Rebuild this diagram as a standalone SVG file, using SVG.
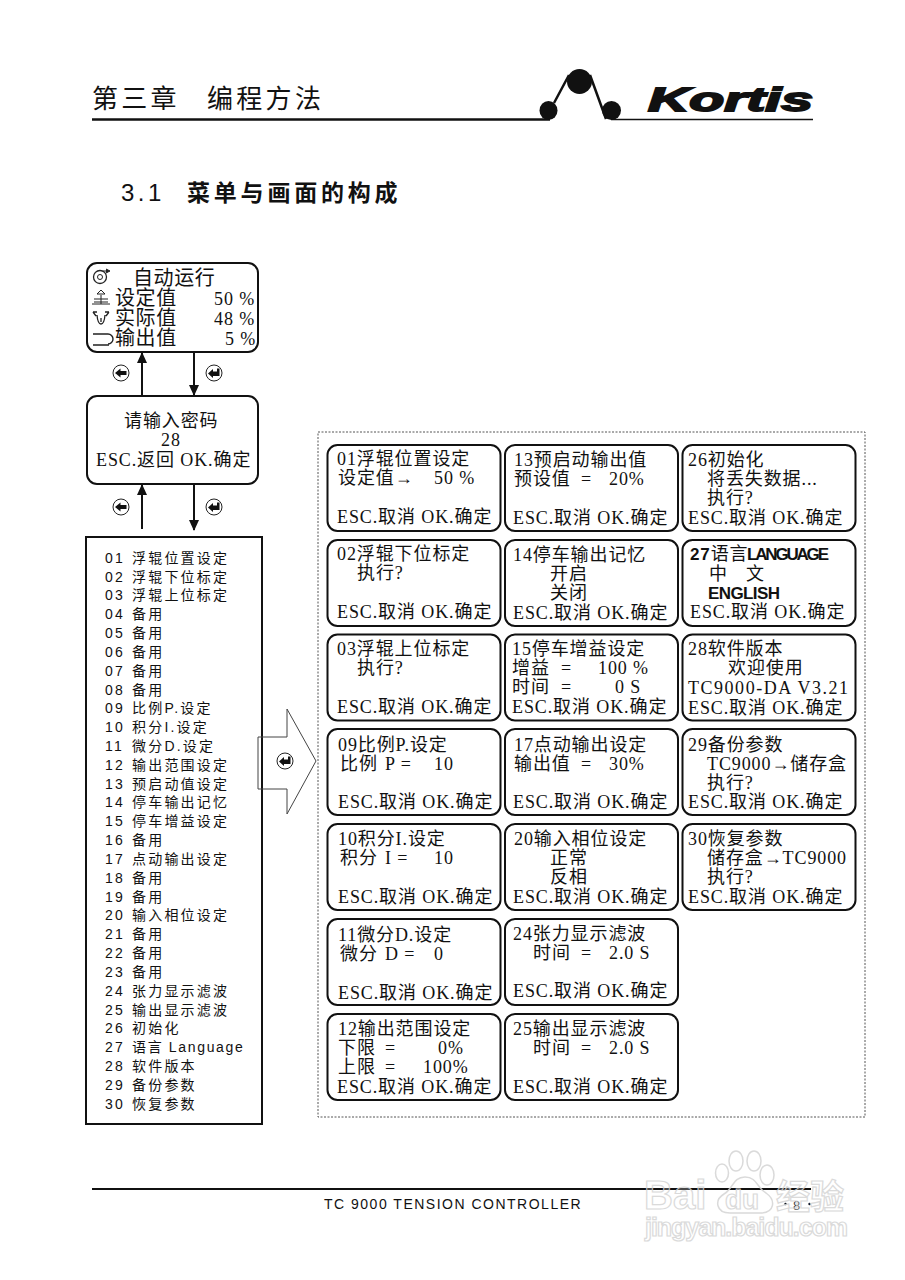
<svg xmlns="http://www.w3.org/2000/svg" width="905" height="1280" viewBox="0 0 905 1280">
<style>
text{font-family:"Liberation Serif","Noto Sans CJK SC",serif;fill:#111;white-space:pre}
.c{font-size:18px;letter-spacing:.9px}
.b{font-size:18px;letter-spacing:.9px}
.m{font-size:20px;letter-spacing:.6px}
.s{font-family:"Liberation Sans",sans-serif;font-weight:700;font-size:17px}
.l{font-family:"Liberation Sans","Noto Sans CJK SC",sans-serif;font-size:14px;letter-spacing:2.2px}
.n{fill:#fff;stroke:#111;stroke-width:2}
.a{stroke:#111;stroke-width:2;fill:none;marker-end:url(#ah)}
.i{fill:#fff;stroke:#222;stroke-width:1}
.h{font-family:"Noto Sans CJK SC",sans-serif}
.w{font-family:"Liberation Sans",sans-serif;font-weight:700;stroke:#d4d4d4;stroke-width:1.2;fill:#fff;fill-opacity:.3}
</style>
<defs>
<marker id="ah" markerWidth="11" markerHeight="10" refX="10" refY="5" orient="auto" markerUnits="userSpaceOnUse"><path d="M0 0 L11 5 L0 10 Z" fill="#111"/></marker>
<g id="ret"><circle r="8" class="i"/><path d="M-6 0.500 L-1 -4 V-1.500 H3 V-4.500 H5.500 V3 H-1 V5 Z" fill="#111"/></g>
<g id="bck"><circle r="8" class="i"/><path d="M-6 0 L-0.500 -4.500 V-2 H5.500 V2 H-0.500 V4.500 Z" fill="#111"/></g>
<rect id="cell" width="173" height="86" rx="10" class="n"/>
</defs>
<rect width="905" height="1280" fill="#fff"/>
<g id="header">
<text class="h" x="92" y="108" font-size="26" letter-spacing="3.300">第三章</text>
<text class="h" x="207" y="108" font-size="26" letter-spacing="3.300">编程方法</text>
<path d="M92 119.500 H550" stroke="#111" stroke-width="2.500"/>
<path d="M611 119.500 H813" stroke="#111" stroke-width="1.600"/>
<ellipse cx="548.500" cy="110.500" rx="9" ry="9.500" fill="#111"/>
<ellipse cx="579.500" cy="81.500" rx="12.500" ry="12.500" fill="#111"/>
<ellipse cx="611.500" cy="110.500" rx="9.500" ry="9.500" fill="#111"/>
<path d="M554 103 L569 75 M590 75 L606 119" stroke="#111" stroke-width="2.500" fill="none"/>
<text x="648" y="111" font-size="33" font-weight="700" font-style="italic" textLength="165" lengthAdjust="spacingAndGlyphs" stroke="#111" stroke-width="1.800" style="font-family:'Liberation Sans',sans-serif">Kortis</text>
<text x="121" y="201" font-size="24" letter-spacing="3.500" style="font-family:'Liberation Sans',sans-serif">3.1</text>
<text class="h" x="187" y="201" font-size="23" font-weight="700" letter-spacing="3.800">菜单与画面的构成</text>
</g>
<g id="node-auto">
<rect x="87" y="263" width="171" height="89" rx="10" class="n"/>
<circle cx="100" cy="277" r="6.500" fill="none" stroke="#222" stroke-width="1.300"/><circle cx="100" cy="277" r="2.500" fill="none" stroke="#222"/><path d="M103 271 H108 M106 269 L110 271 L106 273" stroke="#222" fill="#222" stroke-width="1"/>
<path d="M97 294 L101 290 L105 294 Z M94 299 H108 M94 302 H108 M101 295 V304 M92 304 H110" stroke="#222" fill="none" stroke-width="1"/>
<path d="M93 312 L96 316 M109 312 L106 316 M97 315 C98 327 104 327 105 315 M93 312 H97 M105 312 H109 M101 318 V322" stroke="#222" fill="none" stroke-width="1.300"/>
<path d="M93 334 H108 M93 345 H109 M108 334 A5 5 0 0 1 108 344" stroke="#222" fill="none" stroke-width="1.400"/>
<text class="m" x="133" y="285">自动运行</text>
<text class="m" x="115" y="305">设定值</text><text class="b" x="214" y="305">50 %</text>
<text class="m" x="115" y="325">实际值</text><text class="b" x="214" y="325">48 %</text>
<text class="m" x="115" y="345">输出值</text><text class="b" x="225" y="345">5 %</text>
</g>
<g id="node-password">
<rect x="87" y="396" width="171" height="88" rx="10" class="n"/>
<text class="b" x="124" y="427">请输入密码</text>
<text class="b" x="161" y="446">28</text>
<text class="b" x="96" y="466">ESC.返回 OK.确定</text>
</g>
<g id="node-menu">
<rect x="86" y="537" width="176" height="587" fill="#fff" stroke="#111" stroke-width="2"/>
<text class="l" x="105" y="563">01</text><text class="l" x="132" y="563">浮辊位置设定</text>
<text class="l" x="105" y="582">02</text><text class="l" x="132" y="582">浮辊下位标定</text>
<text class="l" x="105" y="600">03</text><text class="l" x="132" y="600">浮辊上位标定</text>
<text class="l" x="105" y="619">04</text><text class="l" x="132" y="619">备用</text>
<text class="l" x="105" y="638">05</text><text class="l" x="132" y="638">备用</text>
<text class="l" x="105" y="657">06</text><text class="l" x="132" y="657">备用</text>
<text class="l" x="105" y="676">07</text><text class="l" x="132" y="676">备用</text>
<text class="l" x="105" y="695">08</text><text class="l" x="132" y="695">备用</text>
<text class="l" x="105" y="713">09</text><text class="l" x="132" y="713">比例P.设定</text>
<text class="l" x="105" y="732">10</text><text class="l" x="132" y="732">积分I.设定</text>
<text class="l" x="105" y="751">11</text><text class="l" x="132" y="751">微分D.设定</text>
<text class="l" x="105" y="770">12</text><text class="l" x="132" y="770">输出范围设定</text>
<text class="l" x="105" y="789">13</text><text class="l" x="132" y="789">预启动值设定</text>
<text class="l" x="105" y="807">14</text><text class="l" x="132" y="807">停车输出记忆</text>
<text class="l" x="105" y="826">15</text><text class="l" x="132" y="826">停车增益设定</text>
<text class="l" x="105" y="845">16</text><text class="l" x="132" y="845">备用</text>
<text class="l" x="105" y="864">17</text><text class="l" x="132" y="864">点动输出设定</text>
<text class="l" x="105" y="883">18</text><text class="l" x="132" y="883">备用</text>
<text class="l" x="105" y="902">19</text><text class="l" x="132" y="902">备用</text>
<text class="l" x="105" y="920">20</text><text class="l" x="132" y="920">输入相位设定</text>
<text class="l" x="105" y="939">21</text><text class="l" x="132" y="939">备用</text>
<text class="l" x="105" y="958">22</text><text class="l" x="132" y="958">备用</text>
<text class="l" x="105" y="977">23</text><text class="l" x="132" y="977">备用</text>
<text class="l" x="105" y="996">24</text><text class="l" x="132" y="996">张力显示滤波</text>
<text class="l" x="105" y="1015">25</text><text class="l" x="132" y="1015">输出显示滤波</text>
<text class="l" x="105" y="1033">26</text><text class="l" x="132" y="1033">初始化</text>
<text class="l" x="105" y="1052">27</text><text class="l" x="132" y="1052" textLength="113">语言 Language</text>
<text class="l" x="105" y="1071">28</text><text class="l" x="132" y="1071">软件版本</text>
<text class="l" x="105" y="1090">29</text><text class="l" x="132" y="1090">备份参数</text>
<text class="l" x="105" y="1109">30</text><text class="l" x="132" y="1109">恢复参数</text>
</g>
<g id="connectors">
<path class="a" d="M142 395 V353"/>
<path class="a" d="M194 352 V395"/>
<path class="a" d="M142 529 V485"/>
<path class="a" d="M194 484 V530"/>
<path d="M258 737 H287 V709 L316 761 L287 814 V789 H258 Z" fill="none" stroke="#444" stroke-width="1"/>
<use href="#bck" x="121" y="373"/>
<use href="#ret" x="214" y="373"/>
<use href="#bck" x="121" y="507"/>
<use href="#ret" x="214" y="507"/>
<use href="#ret" x="285" y="761"/>
</g>
<rect id="frame" x="318" y="432" width="547" height="685" fill="none" stroke="#555" stroke-width="1" stroke-dasharray="2 1.500"/>
<g id="s01"><use href="#cell" x="327.500" y="445"/><text class="c" x="337" y="465">01浮辊位置设定</text><text class="c" x="338" y="484">设定值<tspan font-weight="700">→</tspan></text><text class="c" x="434" y="484">50 %</text><text class="c" x="337" y="523">ESC.取消 OK.确定</text></g>
<g id="s02"><use href="#cell" x="327.500" y="540"/><text class="c" x="337" y="560">02浮辊下位标定</text><text class="c" x="357" y="579">执行?</text><text class="c" x="337" y="618">ESC.取消 OK.确定</text></g>
<g id="s03"><use href="#cell" x="327.500" y="634.500"/><text class="c" x="337" y="655">03浮辊上位标定</text><text class="c" x="357" y="674">执行?</text><text class="c" x="337" y="713">ESC.取消 OK.确定</text></g>
<g id="s09"><use href="#cell" x="327.500" y="729"/><text class="c" x="338" y="751">09比例P.设定</text><text class="c" x="340" y="770">比例</text><text class="c" x="385" y="770">P =</text><text class="c" x="434" y="770">10</text><text class="c" x="338" y="808">ESC.取消 OK.确定</text></g>
<g id="s10"><use href="#cell" x="327.500" y="824"/><text class="c" x="338" y="845">10积分I.设定</text><text class="c" x="340" y="864">积分</text><text class="c" x="385" y="864">I =</text><text class="c" x="434" y="864">10</text><text class="c" x="338" y="903">ESC.取消 OK.确定</text></g>
<g id="s11"><use href="#cell" x="327.500" y="919"/><text class="c" x="338" y="941">11微分D.设定</text><text class="c" x="340" y="960">微分</text><text class="c" x="385" y="960">D =</text><text class="c" x="434" y="960">0</text><text class="c" x="338" y="999">ESC.取消 OK.确定</text></g>
<g id="s12"><use href="#cell" x="327.500" y="1014"/><text class="c" x="338" y="1035">12输出范围设定</text><text class="c" x="338" y="1054">下限</text><text class="c" x="385" y="1054">=</text><text class="c" x="438" y="1054">0%</text><text class="c" x="338" y="1073">上限</text><text class="c" x="385" y="1073">=</text><text class="c" x="423" y="1073">100%</text><text class="c" x="337" y="1093">ESC.取消 OK.确定</text></g>
<g id="s13"><use href="#cell" x="505" y="445"/><text class="c" x="514" y="466">13预启动输出值</text><text class="c" x="514" y="485">预设值</text><text class="c" x="581" y="485">=</text><text class="c" x="609" y="485">20%</text><text class="c" x="513" y="524">ESC.取消 OK.确定</text></g>
<g id="s14"><use href="#cell" x="505" y="540"/><text class="c" x="513" y="561">14停车输出记忆</text><text class="c" x="550" y="580">开启</text><text class="c" x="550" y="599">关闭</text><text class="c" x="513" y="619">ESC.取消 OK.确定</text></g>
<g id="s15"><use href="#cell" x="505" y="634.500"/><text class="c" x="512" y="655">15停车增益设定</text><text class="c" x="512" y="674">增益</text><text class="c" x="561" y="674">=</text><text class="c" x="598" y="674">100 %</text><text class="c" x="512" y="693">时间</text><text class="c" x="561" y="693">=</text><text class="c" x="615" y="693">0 S</text><text class="c" x="512" y="713">ESC.取消 OK.确定</text></g>
<g id="s17"><use href="#cell" x="505" y="729"/><text class="c" x="514" y="751">17点动输出设定</text><text class="c" x="514" y="770">输出值</text><text class="c" x="581" y="770">=</text><text class="c" x="609" y="770">30%</text><text class="c" x="513" y="808">ESC.取消 OK.确定</text></g>
<g id="s20"><use href="#cell" x="505" y="824"/><text class="c" x="514" y="845">20输入相位设定</text><text class="c" x="550" y="864">正常</text><text class="c" x="550" y="883">反相</text><text class="c" x="513" y="903">ESC.取消 OK.确定</text></g>
<g id="s24"><use href="#cell" x="505" y="919"/><text class="c" x="513" y="940">24张力显示滤波</text><text class="c" x="533" y="959">时间</text><text class="c" x="581" y="959">=</text><text class="c" x="609" y="959">2.0 S</text><text class="c" x="513" y="997">ESC.取消 OK.确定</text></g>
<g id="s25"><use href="#cell" x="505" y="1014"/><text class="c" x="513" y="1035">25输出显示滤波</text><text class="c" x="533" y="1054">时间</text><text class="c" x="581" y="1054">=</text><text class="c" x="609" y="1054">2.0 S</text><text class="c" x="513" y="1093">ESC.取消 OK.确定</text></g>
<g id="s26"><use href="#cell" x="682.500" y="445"/><text class="c" x="688" y="466">26初始化</text><text class="c" x="707" y="485">将丢失数据...</text><text class="c" x="707" y="504">执行?</text><text class="c" x="688" y="524">ESC.取消 OK.确定</text></g>
<g id="s27"><use href="#cell" x="682.500" y="540"/><text class="c" x="690" y="560"><tspan class="s">27</tspan>语言</text><text class="s" x="747" y="560" textLength="82">LANGUAGE</text><text class="c" x="709" y="580">中</text><text class="c" x="746" y="580">文</text><text class="s" x="708" y="599" textLength="72">ENGLISH</text><text class="c" x="690" y="618">ESC.取消 OK.确定</text></g>
<g id="s28"><use href="#cell" x="682.500" y="634.500"/><text class="c" x="688" y="655">28软件版本</text><text class="c" x="728" y="674">欢迎使用</text><text class="c" x="688" y="694" textLength="161">TC9000-DA V3.21</text><text class="c" x="688" y="714">ESC.取消 OK.确定</text></g>
<g id="s29"><use href="#cell" x="682.500" y="729"/><text class="c" x="688" y="751">29备份参数</text><text class="c" x="707" y="770">TC9000<tspan font-weight="700">→</tspan>储存盒</text><text class="c" x="707" y="789">执行?</text><text class="c" x="688" y="808">ESC.取消 OK.确定</text></g>
<g id="s30"><use href="#cell" x="682.500" y="824"/><text class="c" x="688" y="845">30恢复参数</text><text class="c" x="707" y="864">储存盒<tspan font-weight="700">→</tspan>TC9000</text><text class="c" x="707" y="883">执行?</text><text class="c" x="688" y="903">ESC.取消 OK.确定</text></g>
<g id="footer">
<path d="M92 1189 H811" stroke="#111" stroke-width="1.800"/>
<text x="324" y="1209" font-size="14" letter-spacing="1.500" style="font-family:'Liberation Sans',sans-serif">TC 9000 TENSION CONTROLLER</text>
<circle cx="785.500" cy="1204" r="1.200" fill="#111"/><circle cx="809.500" cy="1204" r="1.200" fill="#111"/>
<text x="793" y="1210" font-size="13" style="font-family:'Liberation Sans',sans-serif;fill:#444">8</text>
</g>
<g id="watermark" opacity=".85">
<g fill="#fff" fill-opacity=".4" stroke="#d4d4d4" stroke-width="1.500"><ellipse cx="736" cy="1161" rx="7" ry="10"/><ellipse cx="754" cy="1161" rx="7" ry="10"/><ellipse cx="722" cy="1173" rx="6.500" ry="9"/><ellipse cx="767" cy="1175" rx="7" ry="10"/></g>
<path d="M745 1177 C733 1177 733 1189 724 1194 C714 1200 716 1213 730 1213 H760 C775 1213 776 1200 766 1193 C757 1188 757 1177 745 1177 Z" fill="none" stroke="#d4d4d4" stroke-width="1.500"/>
<text class="w" x="644" y="1209" font-size="40">Bai</text>
<text class="w" x="725" y="1209" font-size="28">du</text>
<text class="w" x="776" y="1209" font-size="34" style="font-family:'Noto Sans CJK SC',sans-serif">经验</text>
<text class="w" x="645" y="1236" font-size="25" textLength="203">jingyan.baidu.com</text>
</g>
</svg>
